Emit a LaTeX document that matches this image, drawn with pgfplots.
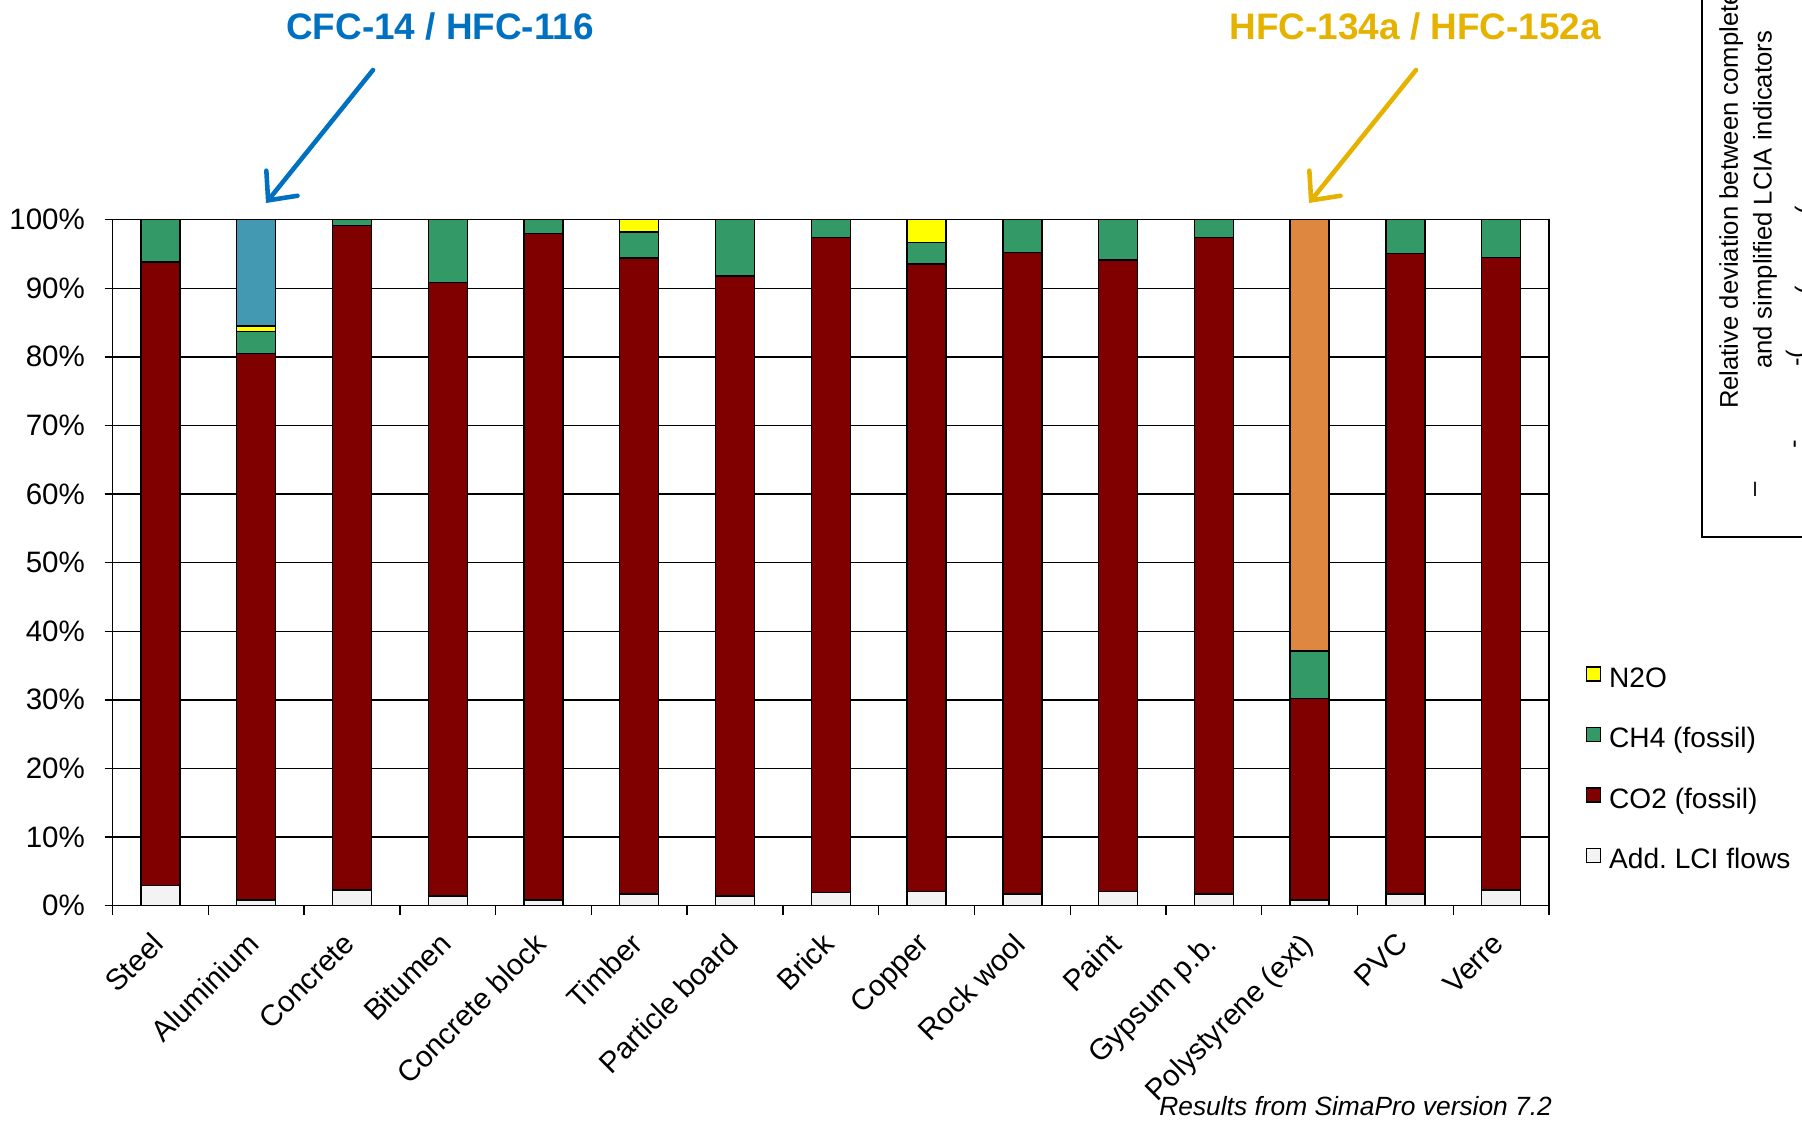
\documentclass[border=0pt]{standalone}
\usepackage{fontspec}
\setmainfont{Liberation Sans}
\usepackage{pgfplots}
\pgfplotsset{compat=1.18}
\usetikzlibrary{arrows.meta}
\definecolor{co2}{HTML}{800000}
\definecolor{ch4}{HTML}{339966}
\definecolor{n2o}{HTML}{FFFF00}
\definecolor{cfc}{HTML}{4499B2}
\definecolor{hfc}{HTML}{DD8740}
\definecolor{addlci}{HTML}{F3F3F3}
\definecolor{annblue}{HTML}{0070C0}
\definecolor{anngold}{HTML}{E6B200}
\newcommand\tickfont{\fontsize{8.4}{10}\selectfont}
\newcommand\legfont{\fontsize{8.0}{9.6}\selectfont}
\pgfplotsset{sqleg/.style={legend image code/.code={\draw[##1,draw=black,line width=0.4pt] (0mm,-0.15mm) rectangle (1.4mm,1.25mm);}}}
\begin{document}
\begin{tikzpicture}
\useasboundingbox (-11.26mm,-21.64mm) rectangle (168.94mm,90.56mm);
\begin{axis}[
  scale only axis, width=143.64mm, height=68.6mm,
  at={(0,0)}, anchor=south west,
  ybar stacked, bar width=3.9mm,
  xmin=-0.5, xmax=14.5, ymin=0, ymax=100,
  xtick={0,...,14},
  xticklabels={Steel,Aluminium,Concrete,Bitumen,Concrete block,Timber,Particle board,Brick,Copper,Rock wool,Paint,Gypsum p.b.,Polystyrene (ext),PVC,Verre},
  minor xtick={-0.5,0.5,...,14.5},
  ytick={0,10,...,100},
  yticklabels={0\%,10\%,20\%,30\%,40\%,50\%,60\%,70\%,80\%,90\%,100\%},
  xtick pos=bottom, ytick pos=left,
  tick align=outside,
  major x tick style={draw=none},
  major tick length=0.8mm, minor tick length=0.9mm,
  tick style={black, line width=0.4pt},
  ymajorgrids, major grid style={black, line width=0.4pt},
  axis line style={black, line width=0.5pt},
  xticklabel style={font=\tickfont, rotate=45, anchor=north east, inner sep=0pt, xshift=-1.9mm, yshift=-0.45mm},
  yticklabel style={font=\tickfont, anchor=east, inner sep=0pt, xshift=-1.9mm},
  legend style={at={(axis description cs:1.0251,0.3502)}, anchor=north west, draw=none, fill=none, font=\legfont, inner sep=0pt, row sep=3.35mm, nodes={inner sep=0pt, text height=2.1mm, text depth=0.6mm}, /tikz/every odd column/.append style={column sep=0.8mm}},
  legend cell align=left,
  reverse legend,
]
\addplot[fill=addlci, draw=black, line width=0.4pt, sqleg] coordinates {
 (0,2.9) (1,0.8) (2,2.3) (3,1.4) (4,0.8) (5,1.7) (6,1.4) (7,1.9) (8,2.1) (9,1.7) (10,2.1) (11,1.7) (12,0.8) (13,1.7) (14,2.3)};
\addlegendentry{Add.\ LCI flows}
\addplot[fill=co2, draw=black, line width=0.4pt, sqleg] coordinates {
 (0,90.9) (1,79.7) (2,96.8) (3,89.4) (4,97.2) (5,92.7) (6,90.4) (7,95.5) (8,91.4) (9,93.5) (10,92.0) (11,95.7) (12,29.4) (13,93.4) (14,92.2)};
\addlegendentry{CO2 (fossil)}
\addplot[fill=ch4, draw=black, line width=0.4pt, sqleg] coordinates {
 (0,6.2) (1,3.2) (2,0.9) (3,9.2) (4,2.0) (5,3.8) (6,8.2) (7,2.6) (8,3.2) (9,4.8) (10,5.9) (11,2.6) (12,6.9) (13,4.9) (14,5.5)};
\addlegendentry{CH4 (fossil)}
\addplot[fill=n2o, draw=black, line width=0.4pt, sqleg] coordinates {
 (0,0) (1,0.8) (2,0) (3,0) (4,0) (5,1.8) (6,0) (7,0) (8,3.3) (9,0) (10,0) (11,0) (12,0) (13,0) (14,0)};
\addlegendentry{N2O}
\addplot[fill=cfc, draw=black, line width=0.4pt, forget plot] coordinates {
 (0,0) (1,15.5) (2,0) (3,0) (4,0) (5,0) (6,0) (7,0) (8,0) (9,0) (10,0) (11,0) (12,0) (13,0) (14,0)};
\addplot[fill=hfc, draw=black, line width=0.4pt, forget plot] coordinates {
 (0,0) (1,0) (2,0) (3,0) (4,0) (5,0) (6,0) (7,0) (8,0) (9,0) (10,0) (11,0) (12,62.9) (13,0) (14,0)};
\end{axis}
% annotations
\node[annblue, font=\fontsize{10.5}{12}\selectfont\bfseries, anchor=base] at (32.74mm,86.63mm) {CFC-14 / HFC-116};
\node[anngold, font=\fontsize{10.5}{12}\selectfont\bfseries, anchor=base] at (130.27mm,86.63mm) {HFC-134a / HFC-152a};
\draw[annblue, line width=1.3pt, line cap=round, -{Straight Barb[length=2.2mm,width=4mm,line cap=round]}] (26.04mm,83.56mm) -- (15.34mm,70.26mm);
\draw[anngold, line width=1.3pt, line cap=round, -{Straight Barb[length=2.2mm,width=4mm,line cap=round]}] (130.34mm,83.56mm) -- (119.64mm,70.26mm);
\node[font=\itshape\fontsize{7.5}{9}\selectfont, anchor=base east, inner sep=0pt] at (144.0mm,-21.0mm) {Results from SimaPro version 7.2};
% cut-off neighbouring panel
\begin{scope}
\clip (-11.26mm,-21.64mm) rectangle (168.94mm,90.56mm);
\draw[black, line width=0.55pt] (158.94mm,100mm) -- (158.94mm,36.86mm) -- (175mm,36.86mm);
\node[rotate=90, align=center, font=\fontsize{7.3}{9.6}\selectfont, inner sep=0pt] at (163.54mm,70.56mm) {Relative deviation between complete\\and simplified LCIA indicators};
\node[rotate=90, font=\fontsize{7.3}{9}\selectfont, inner sep=0pt] at (164.54mm,41.66mm) {--};
\node[rotate=90, font=\fontsize{7.3}{9}\selectfont, inner sep=0pt, anchor=west] at (168.5mm,45.6mm) {-};
\node[rotate=90, font=\fontsize{7.3}{9}\selectfont, inner sep=0pt, anchor=west] at (168.5mm,53.8mm) {-(};
\node[rotate=90, font=\fontsize{7.3}{9}\selectfont, inner sep=0pt, anchor=west] at (169.4mm,61.0mm) {(};
\node[rotate=90, font=\fontsize{7.3}{9}\selectfont, inner sep=0pt, anchor=west] at (169.4mm,69.0mm) {(};
\end{scope}
\end{tikzpicture}
\end{document}
